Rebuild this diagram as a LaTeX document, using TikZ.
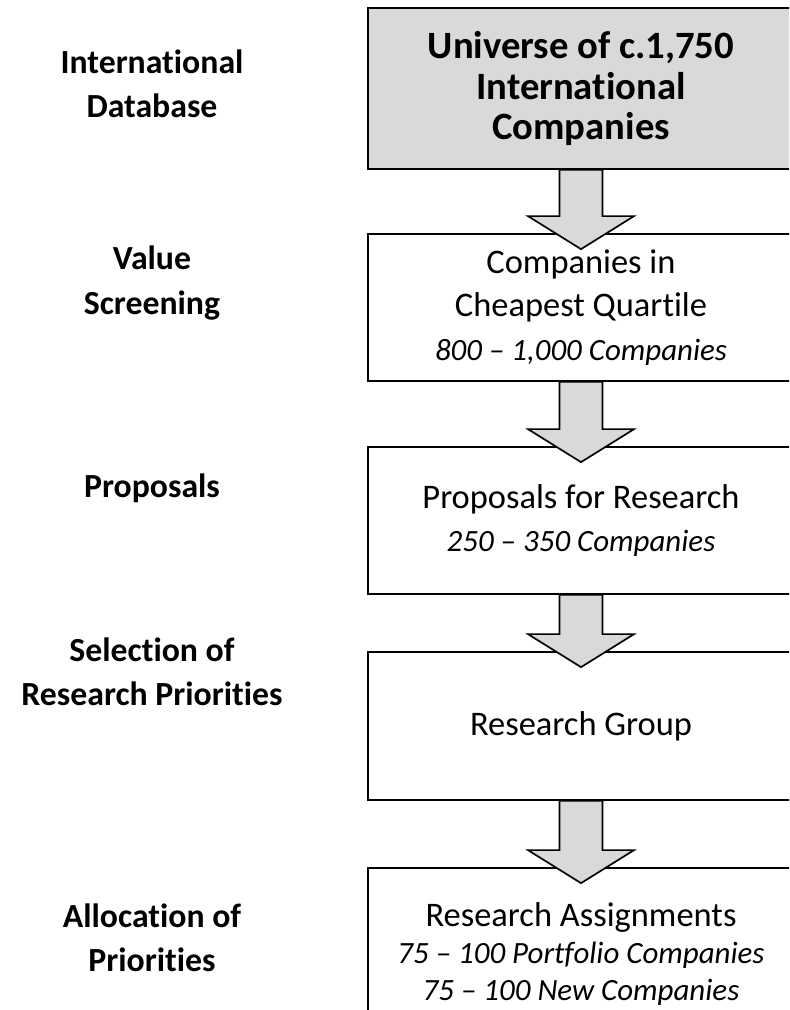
\documentclass[tikz,border=0pt]{standalone}
\usepackage{fontspec}
\setmainfont[Ligatures={TeX,NoCommon}]{Carlito}
\usetikzlibrary{calc}
\definecolor{boxgrey}{RGB}{217,217,217}
\newcommand\tally[1]{{\itshape\fontsize{22}{26}\selectfont #1}}
\newcommand\flowarrow[2]{%
  \draw[flow] ($(#1.south)+(-21.5,0)$) -- ($(#2.north)+(-21.5,-17)$)
    -- ($(#2.north)+(-53,-17)$) -- ($(#2.north)+(0,16)$)
    -- ($(#2.north)+(53,-17)$) -- ($(#2.north)+(21.5,-17)$)
    -- ($(#1.south)+(21.5,0)$) -- cycle;}
\begin{document}
\begin{tikzpicture}[x=0.025cm,y=-0.025cm,
    stage/.style={draw,line width=1.2pt,minimum width=10.65cm,align=center,
      inner sep=0pt,font=\fontsize{24.5}{31}\selectfont},
    phase/.style={align=center,font=\bfseries\fontsize{24}{31.5}\selectfont},
    flow/.style={draw,fill=boxgrey,line width=1.2pt,line join=miter}]
  \clip (0,0) rectangle (789,1010);

  \node[stage,fill=boxgrey,minimum height=4.025cm,font=\bfseries\fontsize{27.5}{29}\selectfont]
    (univ) at (581,88.5) {Universe of c.1,750\\International\\Companies};
  \node[stage,minimum height=3.675cm] (cheap) at (581,307.5)
    {Companies in\\Cheapest Quartile\\\tally{800 -- 1,000 Companies}};
  \node[stage,minimum height=3.675cm] (prop) at (581,520.5)
    {Proposals for Research\\\tally{250 -- 350 Companies}};
  \node[stage,minimum height=3.7cm] (group) at (581,726) {Research Group};
  \node[stage,minimum height=4.3cm,font=\fontsize{24.5}{26.3}\selectfont] (assign) at (581,954)
    {Research Assignments\\\tally{75 -- 100 Portfolio Companies}\\\tally{75 -- 100 New Companies}};

  \flowarrow{univ}{cheap}
  \flowarrow{cheap}{prop}
  \flowarrow{prop}{group}
  \flowarrow{group}{assign}

  \node[phase] (db) at (152,84) {International\\Database};
  \node[phase] (screen) at (152,283) {Value\\Screening};
  \node[phase] (props) at (152,488) {Proposals};
  \node[phase] (select) at (152,672) {Selection of\\Research Priorities};
  \node[phase] (alloc) at (152,938) {Allocation of\\Priorities};
\end{tikzpicture}
\end{document}
